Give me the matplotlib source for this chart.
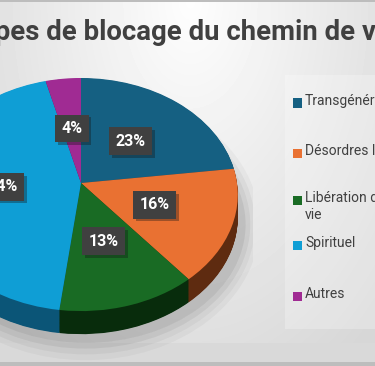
import matplotlib.pyplot as plt
import numpy as np
from matplotlib.patches import Rectangle, Ellipse, PathPatch
from matplotlib.path import Path
from matplotlib import patheffects as pe

# donnees
categories = ["Transgénérationnel", "Désordres liés", "Libération de la\nvie", "Spirituel", "Autres"]
values = [23, 16, 13, 44, 4]
colors_top = ['#156082', '#E97132', '#196B24', '#0F9ED5', '#A02B93']
colors_side = ['#0c3d55', '#5e2b10', '#082c0c', '#0b5577', '#5a1652']
titre = "Types de blocage du chemin de vie"

W, H = 375, 366
fig = plt.figure(figsize=(W / 100, H / 100), dpi=100)

# fond degrade
bg = fig.add_axes([0, 0, 1, 1])
bg.axis('off')
yy, xx = np.mgrid[0:H, 0:W]
r = np.sqrt(((xx - 190) / 230.0) ** 2 + (yy / 370.0) ** 2)
val = np.clip(0.995 - 0.13 * r, 0.84, 1)
val[343:, :] = 0.85
val[362:, :] = 0.74
val[:2, :] = 0.74
bg.imshow(val, cmap='gray', vmin=0, vmax=1, extent=(0, W, H, 0), aspect='auto')
bg.set_xlim(0, W)
bg.set_ylim(H, 0)
bg.add_patch(Rectangle((285, 75), 95, 254, fc='white', alpha=0.25, ec='none'))

# titre
fig.text(181 / W, 1 - 32 / H, titre, ha='center', va='center', fontsize=19.8,
         fontweight='bold', color='#404040', family='Roboto')

# camembert 3D avec perspective
k = 0.099
def persp(xy, dy=0.0):
    f = 1 + k * xy[:, 1]
    return np.column_stack([xy[:, 0] / f, xy[:, 1] / f - dy])

cx, cy, sx, sy = 81, 366 - 183, 156, 115.4
x0, x1, y0, y1 = -1.1, 1.1, -1.6, 1.0
ax = fig.add_axes([(cx + x0 * sx) / W, (cy + y0 * sy) / H,
                   (x1 - x0) * sx / W, (y1 - y0) * sy / H])
depth = 0.2

# ombre
for j, a in enumerate([0.06, 0.05, 0.04, 0.03]):
    ax.add_patch(Ellipse((0.03, -0.1 - depth - 0.06), 2.05 + 0.06 * j, 2.05 + 0.1 * j,
                         fc='black', alpha=a, ec='none'))

def draw_pie(cols, dy, **kw):
    wedges, _, *rest = ax.pie(values, colors=cols, startangle=90, counterclock=False,
                              radius=1, wedgeprops=dict(linewidth=0), **kw)
    for w, c in zip(wedges, cols):
        p = w.get_path()
        w.remove()
        ax.add_patch(PathPatch(Path(persp(p.vertices, dy), p.codes), fc=c, lw=0))
    return rest

for d in np.linspace(depth, 0.005, 40):
    draw_pie(colors_side, d)

(autotexts,) = draw_pie(colors_top, 0, autopct='%1.0f%%', pctdistance=0.5,
                        textprops=dict(color='white', fontsize=11.5, fontweight='bold',
                                       family='Roboto'))
for t in autotexts:
    t.set_position(persp(np.array([t.get_position()]))[0])
    t.set_bbox(dict(boxstyle='square,pad=0.4', fc='#404040', ec='none'))
    t.get_bbox_patch().set_path_effects(
        [pe.SimplePatchShadow(offset=(2, -2), alpha=0.35), pe.Normal()])
    t.set_zorder(5)

ax.set_xlim(x0, x1)
ax.set_ylim(y0, y1)
ax.set_aspect('auto')
ax.axis('off')

# legende
leg_y = [103, 153, 200, 245, 296]
for lab, col, yc in zip(categories, colors_top, leg_y):
    fig.add_artist(Rectangle((293 / W, 1 - (yc + 4.5) / H), 9 / W, 9 / H,
                             transform=fig.transFigure, fc=col, ec='none'))
    fig.text(305 / W, 1 - (yc - 9) / H, lab, ha='left', va='top', fontsize=10,
             color='#404040', family='Roboto', linespacing=1.3)

fig.savefig('out.png', dpi=100)
